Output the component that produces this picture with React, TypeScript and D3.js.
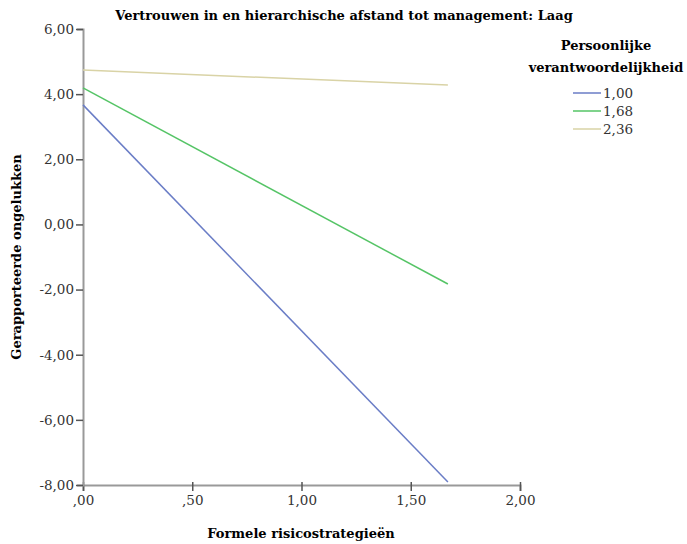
import React, { useRef, useEffect } from "react";
import * as d3 from "d3";

const seriesNames = ["1,00", "1,68", "2,36"];
const seriesColors = ["#6a7dc6", "#55c466", "#d9d3a6"];
const xStart = [0, 0, 0];
const xEnd = [1.67, 1.67, 1.67];
const yStart = [3.67, 4.19, 4.74];
const yEnd = [-7.91, -1.83, 4.28];
const xTicks = [0, 0.5, 1, 1.5, 2];
const yTicks = [-8, -6, -4, -2, 0, 2, 4, 6];

const fmtY = (v: number) => v.toFixed(2).replace(".", ",");
const fmtX = (v: number) => fmtY(v).replace(/^0,/, ",");

const FONT = "DejaVu Serif";

const App = () => {
  const svgRef = useRef<SVGSVGElement>(null);

  useEffect(() => {
    const width = 687;
    const height = 544;

    const svg = d3.select(svgRef.current)
      .attr("width", width)
      .attr("height", height)
      .style("position", "absolute")
      .style("left", 0)
      .style("top", 0);
    svg.selectAll("*").remove();

    const x = d3.scaleLinear().domain([0, 2]).range([83, 520]);
    const y = d3.scaleLinear().domain([-8, 6]).range([485, 29]);

    // title
    svg.append("text")
      .attr("x", 344)
      .attr("y", 20)
      .attr("text-anchor", "middle")
      .attr("font-family", FONT)
      .attr("font-weight", "bold")
      .attr("font-size", 13)
      .text("Vertrouwen in en hierarchische afstand tot management: Laag");

    // axes
    const xAxis = svg.append("g")
      .attr("transform", `translate(0,${y(-8)})`)
      .call(d3.axisBottom(x).tickValues(xTicks).tickFormat((d) => fmtX(+d)).tickSizeOuter(0).tickSize(6));
    const yAxis = svg.append("g")
      .attr("transform", `translate(${x(0)},0)`)
      .call(d3.axisLeft(y).tickValues(yTicks).tickFormat((d) => fmtY(+d)).tickSizeOuter(0).tickSize(6));

    [xAxis, yAxis].forEach((a) => {
      a.attr("font-family", FONT);
      a.select(".domain").attr("stroke", "#999").attr("stroke-width", 2);
      a.selectAll(".tick line").attr("stroke", "#555").attr("stroke-width", 1.5);
      a.selectAll(".tick text")
        .attr("font-family", FONT)
        .attr("font-size", 13.5)
        .attr("fill", "#333");
    });
    xAxis.selectAll(".tick line").attr("y1", -3).attr("y2", 6);
    xAxis.selectAll(".tick text").attr("y", 10);
    yAxis.selectAll(".tick line").attr("x1", 0).attr("x2", -7);
    yAxis.selectAll(".tick text").attr("x", -9);

    // axis labels
    svg.append("text")
      .attr("x", 301)
      .attr("y", 538)
      .attr("text-anchor", "middle")
      .attr("font-family", FONT)
      .attr("font-weight", "bold")
      .attr("font-size", 13)
      .text("Formele risicostrategieën");
    svg.append("text")
      .attr("transform", `translate(21,257) rotate(-90)`)
      .attr("text-anchor", "middle")
      .attr("font-family", FONT)
      .attr("font-weight", "bold")
      .attr("font-size", 13)
      .text("Gerapporteerde ongelukken");

    // lines
    const line = d3.line<[number, number]>().x((d) => x(d[0])).y((d) => y(d[1]));
    seriesNames.forEach((name, i) => {
      svg.append("path")
        .datum([[xStart[i], yStart[i]], [xEnd[i], yEnd[i]]] as [number, number][])
        .attr("d", line)
        .attr("fill", "none")
        .attr("stroke", seriesColors[i])
        .attr("stroke-width", 1.5);
    });

    // legend
    const lg = svg.append("g").attr("font-family", FONT);
    lg.append("text")
      .attr("x", 606)
      .attr("y", 50)
      .attr("text-anchor", "middle")
      .attr("font-weight", "bold")
      .attr("font-size", 13)
      .text("Persoonlijke");
    lg.append("text")
      .attr("x", 606)
      .attr("y", 72)
      .attr("text-anchor", "middle")
      .attr("font-weight", "bold")
      .attr("font-size", 13)
      .text("verantwoordelijkheid");
    seriesNames.forEach((name, i) => {
      const yy = 93 + i * 18;
      lg.append("line")
        .attr("x1", 573).attr("x2", 601)
        .attr("y1", yy).attr("y2", yy)
        .attr("stroke", seriesColors[i])
        .attr("stroke-width", 1.5);
      lg.append("text")
        .attr("x", 603)
        .attr("y", yy + 5)
        .attr("font-size", 13.5)
        .attr("fill", "#333")
        .text(name);
    });
  }, []);

  return <svg ref={svgRef} />;
};

export default App;
